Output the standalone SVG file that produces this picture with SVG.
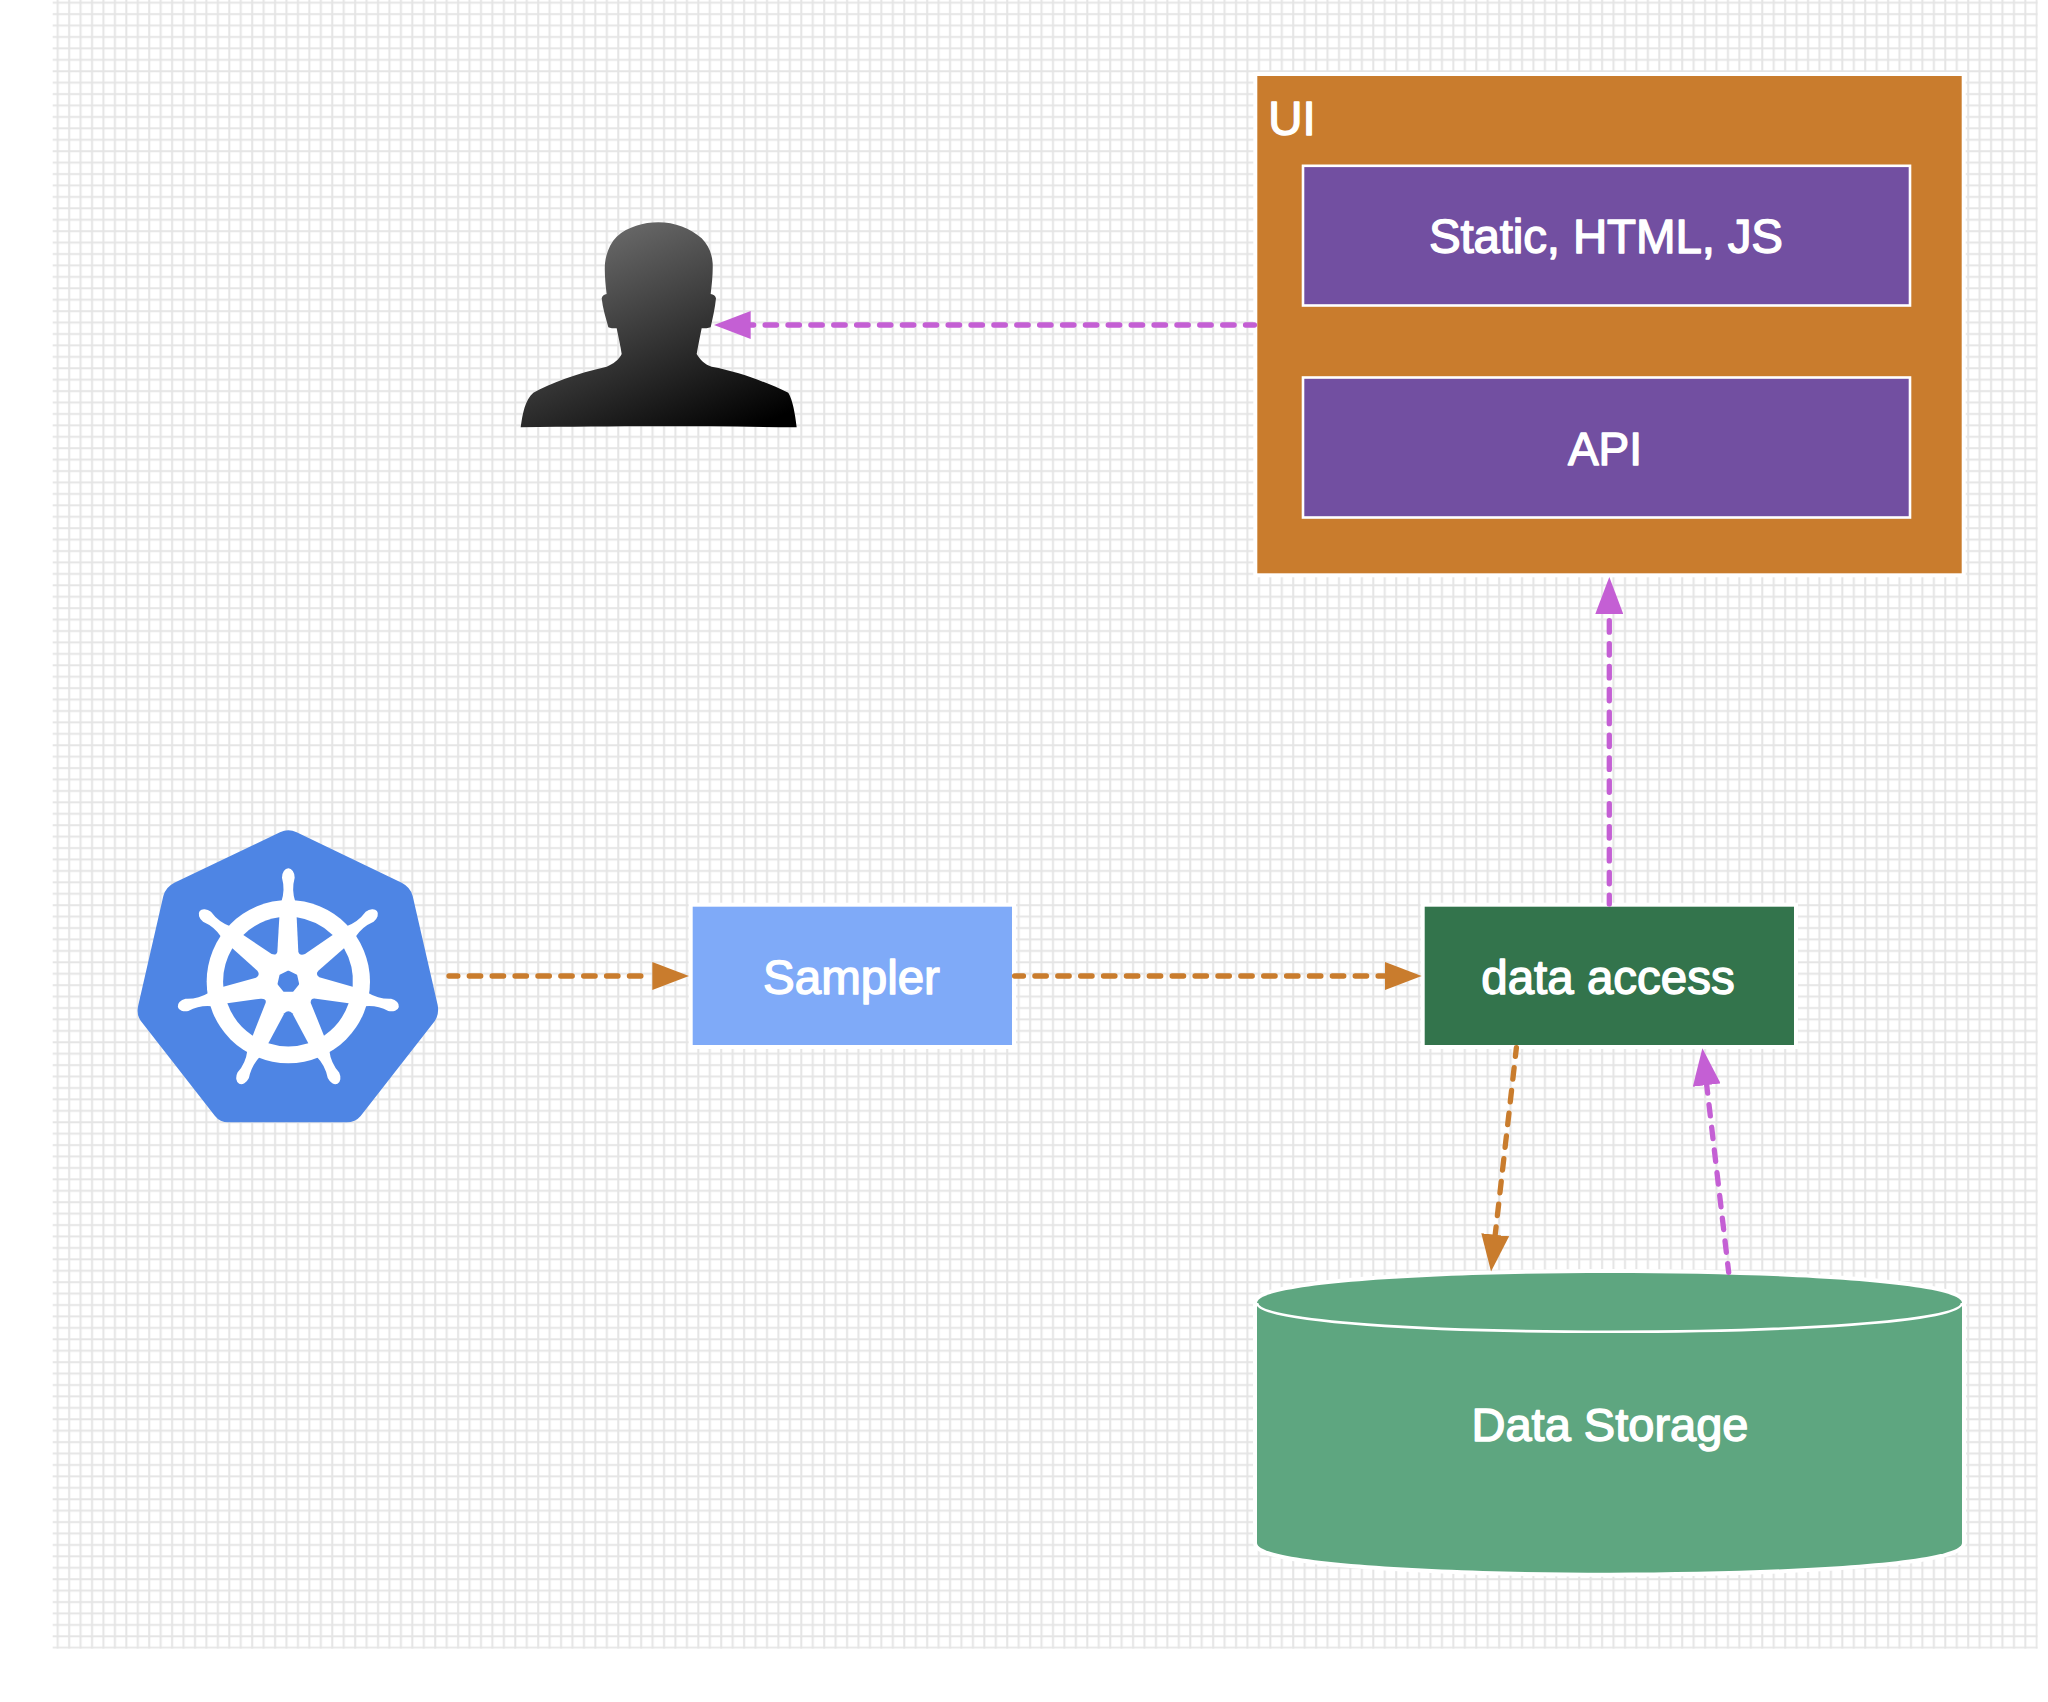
<svg xmlns="http://www.w3.org/2000/svg" xmlns:xlink="http://www.w3.org/1999/xlink" width="2048" height="1702" viewBox="0 0 2048 1702">
<style>
.lbl{font-family:"Liberation Sans",Arial,sans-serif;font-size:47.5px;fill:#fff;stroke:#fff;stroke-width:1.4;stroke-linejoin:round;text-anchor:middle}
.halo{fill:#fff;stroke:#fff;stroke-width:8}
.inner{fill:#724fa1;stroke:#fff;stroke-width:2.6}
.conn{fill:none;stroke-width:5.3;stroke-linecap:round;stroke-dasharray:11.44 11.44;stroke-dashoffset:2.6}
.pur{stroke:#c45fd4;marker-end:url(#hp)}
.ora{stroke:#c97c2d;marker-end:url(#ho)}
.kb{fill:#4e85e4}
</style>
<defs>
<pattern id="grid" patternUnits="userSpaceOnUse" x="52.7" y="-2.3" width="11.44" height="11.424">
<rect width="11.44" height="11.424" fill="#fff"/>
<path d="M5,0V11.424M0,5H11.44" stroke="#e5e5e5" stroke-width="2" fill="none"/>
</pattern>
<marker id="hp" markerUnits="userSpaceOnUse" viewBox="0 -14 37 28" markerWidth="37" markerHeight="28" refX="0" refY="0" orient="auto"><path d="M0,-14L37,0L0,14Z" fill="#c45fd4"/></marker>
<marker id="ho" markerUnits="userSpaceOnUse" viewBox="0 -14 37 28" markerWidth="37" markerHeight="28" refX="0" refY="0" orient="auto"><path d="M0,-14L37,0L0,14Z" fill="#c97c2d"/></marker>
<linearGradient id="pg" x1="0.25" y1="0" x2="0.85" y2="1"><stop offset="0" stop-color="#6f6f6f"/><stop offset="1" stop-color="#000"/></linearGradient>
<path id="handle" d="M484,275Q496,240 486,203A19,28 0 0 1 524,203Q514,240 526,275Z" fill="#fff"/>
</defs>
<rect id="background-grid" x="52.7" y="0" width="1985" height="1648.7" fill="url(#grid)"/>

<g id="node-ui">
<rect class="halo" x="1257.3" y="76" width="704.4" height="497.3"/>
<rect x="1257.3" y="76" width="704.4" height="497.3" fill="#c97c2d"/>
<text class="lbl" x="1292" y="135">UI</text>
</g>
<g id="node-static">
<rect class="inner" x="1303" y="165.8" width="607" height="139.7"/>
<text class="lbl" x="1606" y="253" textLength="354">Static, HTML, JS</text>
</g>
<g id="node-api">
<rect class="inner" x="1303" y="377.5" width="607" height="140"/>
<text class="lbl" x="1605" y="465" font-size="46" style="font-size:46px">API</text>
</g>
<g id="node-user">
<path transform="translate(500 200) scale(.33333)" fill="url(#pg)" d="M62,682C68,640 75,600 100,578C150,550 230,520 320,500C340,492 358,478 365,462C362,440 355,410 350,385C340,385 330,385 325,382C318,355 308,325 305,295C307,286 313,283 320,282C316,250 313,215 315,190C318,160 330,130 350,110C385,80 430,67 475,67C525,67 570,85 605,115C625,135 636,160 638,190C639,220 636,250 632,282C640,283 646,287 648,295C645,325 638,355 632,382C625,385 615,385 605,385C600,410 595,435 590,462C600,478 615,495 635,500C720,515 800,548 865,578C878,600 885,640 890,682C600,678 350,678 62,682Z"/>
</g>
<g id="node-kubernetes">
<g transform="translate(120 810) scale(.33333)">
<path class="kb" d="M480,67Q505,55 530,67L845,218Q872,232 878,258L953,585Q958,612 945,632L722,918Q706,937 680,937L325,937Q300,937 285,918L62,632Q48,612 55,585L130,258Q136,232 163,218Z"/>
<use xlink:href="#handle" href="#handle"/>
<use xlink:href="#handle" href="#handle" transform="rotate(51.43 505 515)"/>
<use xlink:href="#handle" href="#handle" transform="rotate(102.86 505 515)"/>
<use xlink:href="#handle" href="#handle" transform="rotate(154.29 505 515)"/>
<use xlink:href="#handle" href="#handle" transform="rotate(205.71 505 515)"/>
<use xlink:href="#handle" href="#handle" transform="rotate(257.14 505 515)"/>
<use xlink:href="#handle" href="#handle" transform="rotate(308.57 505 515)"/>
<circle cx="505" cy="515" r="245" fill="#fff"/>
<g class="kb">
<path d="M370,375A195,195 0 0 1 478,322L472,425Q470,437 455,432Z"/>
<path d="M530,322A195,195 0 0 1 638,375L555,432Q538,438 535,425Z"/>
<path d="M672,415A195,195 0 0 1 698,530L598,502Q585,492 595,482Z"/>
<path d="M686,580A195,195 0 0 1 612,677L572,578Q572,563 588,566Z"/>
<path d="M565,700A195,195 0 0 1 445,700L493,610Q505,597 517,610Z"/>
<path d="M398,677A195,195 0 0 1 322,580L422,566Q440,565 437,578Z"/>
<path d="M310,530A195,195 0 0 1 337,415L412,482Q422,495 408,503Z"/>
<path stroke="#4e85e4" stroke-width="8" stroke-linejoin="round" d="M505,486L527.7,496.9L533.3,521.5L517.5,541.2L492.5,541.2L476.7,521.5L482.3,496.9Z"/>
</g>
</g>
</g>
<g id="node-sampler">
<rect class="halo" x="692.7" y="906.7" width="319.3" height="138.3"/>
<rect x="692.7" y="906.7" width="319.3" height="138.3" fill="#7faaf8"/>
<text class="lbl" x="851.5" y="994">Sampler</text>
</g>
<g id="node-data-access">
<rect class="halo" x="1424.7" y="906.7" width="369.3" height="138.3"/>
<rect x="1424.7" y="906.7" width="369.3" height="138.3" fill="#33744c"/>
<text class="lbl" x="1608" y="994">data access</text>
</g>
<g id="node-data-storage">
<path class="halo" d="M1257,1303C1257,1262.9 1962,1262.9 1962,1303L1962,1543C1962,1582.6 1257,1582.6 1257,1543Z"/>
<path d="M1257,1303C1257,1262.9 1962,1262.9 1962,1303L1962,1543C1962,1582.6 1257,1582.6 1257,1543Z" fill="#5ea680"/>
<path d="M1257,1303C1257,1341.4 1962,1341.4 1962,1303" fill="none" stroke="#fff" stroke-width="2.6"/>
<text class="lbl" x="1610" y="1441" style="font-size:47px">Data Storage</text>
</g>
<g id="connectors">
<path class="conn pur" d="M1254.4,325H750.7"/>
<path class="conn pur" d="M1609.3,904.1V614"/>
<path class="conn ora" d="M449,976H652.3"/>
<path class="conn ora" d="M1014.6,976H1384.7"/>
<path class="conn ora" d="M1516.4,1047.6L1495.2,1234.8"/>
<path class="conn pur" d="M1728.7,1272.4L1706.7,1085.1"/>
</g>
</svg>
